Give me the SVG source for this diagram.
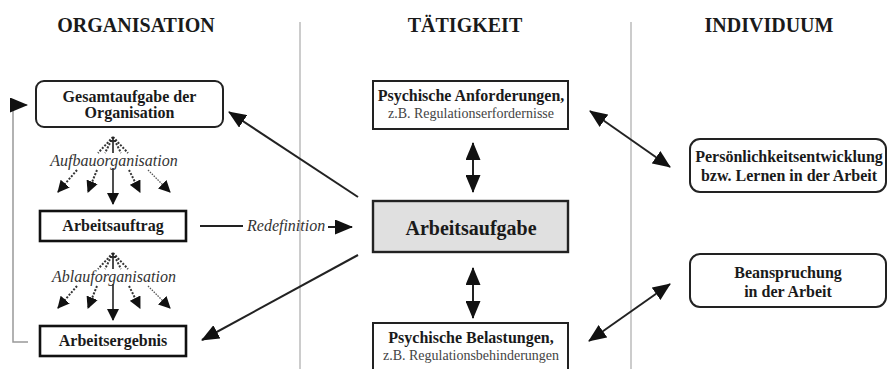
<svg xmlns="http://www.w3.org/2000/svg" xmlns:xlink="http://www.w3.org/1999/xlink" width="888" height="369" viewBox="0 0 888 369">
<style>
text{font-family:"Liberation Serif","Times New Roman",serif;fill:#1a1a1a}
.h{font-size:20px;font-weight:bold;text-anchor:middle}
.b{font-size:16px;font-weight:bold;text-anchor:middle}
.s{font-size:14px;text-anchor:middle;fill:#444}
.i{font-size:16px;font-style:italic;fill:#333}
.box{fill:#fff;stroke:#222;stroke-width:2}
.heavy{fill:#fff;stroke:#111;stroke-width:2.6}
.div{stroke:#bbb;stroke-width:1.5;fill:none}
.arr{stroke:#222;stroke-width:2;fill:none}
.dot{stroke:#333;stroke-width:2;stroke-dasharray:2 1.5;fill:none}
.thin{stroke:#555;stroke-width:1.3;stroke-dasharray:1.5 1.2;fill:none}
.sol{stroke:#222;stroke-width:1.6;fill:none}
</style>
<defs>
<marker id="ah" markerUnits="userSpaceOnUse" markerWidth="18" markerHeight="15" viewBox="0 0 18 15" refX="17" refY="7.5" orient="auto-start-reverse"><path d="M0,0 L18,7.5 L0,15 z" fill="#111"/></marker>
<marker id="sm" markerUnits="userSpaceOnUse" markerWidth="12" markerHeight="12" viewBox="0 0 12 12" refX="11" refY="6" orient="auto"><path d="M0,0 L12,6 L0,12 z" fill="#111"/></marker>
<g id="fan">
<path class="dot" d="M0,0 L-15,16 M0,0 L-8,16 M0,0 L8,16 M0,0 L15,16"/>
<path class="sol" d="M0,0 L0,16 M-3,4 L3,4"/>
<path class="dot" d="M-36,33 L-55,55" marker-end="url(#sm)"/>
<path class="dot" d="M-16,33 L-25,55" marker-end="url(#sm)"/>
<path class="sol" d="M0,31 L0,67" marker-end="url(#sm)"/>
<path class="dot" d="M16,33 L27,55" marker-end="url(#sm)"/>
<path class="thin" d="M35,33 L57,55" marker-end="url(#sm)"/>
</g>
</defs>
<rect width="888" height="369" fill="#fff"/>

<g id="headers">
<text class="h" x="136" y="32">ORGANISATION</text>
<text class="h" x="465" y="32">TÄTIGKEIT</text>
<text class="h" x="769" y="32">INDIVIDUUM</text>
</g>
<g id="dividers">
<line class="div" x1="300" y1="22" x2="300" y2="369"/>
<line class="div" x1="631" y1="22" x2="631" y2="369"/>
</g>

<g id="gesamtaufgabe">
<rect class="box" x="36" y="81" width="187" height="46" rx="8"/>
<text class="b" x="129.5" y="102">Gesamtaufgabe der</text>
<text class="b" x="129.5" y="118">Organisation</text>
</g>
<g id="aufbau">
<use xlink:href="#fan" href="#fan" transform="translate(113,137)"/>
<text class="i" x="114" y="166" text-anchor="middle">Aufbauorganisation</text>
</g>
<g id="arbeitsauftrag">
<rect class="heavy" x="40" y="211" width="146" height="30"/>
<text class="b" x="113" y="231">Arbeitsauftrag</text>
</g>
<g id="ablauf">
<use xlink:href="#fan" href="#fan" transform="translate(113,253)"/>
<text class="i" x="114" y="282" text-anchor="middle">Ablauforganisation</text>
</g>
<g id="arbeitsergebnis">
<rect class="heavy" x="40" y="326" width="146" height="30"/>
<text class="b" x="113" y="346">Arbeitsergebnis</text>
</g>

<g id="anforderungen">
<rect class="box" x="373" y="81" width="195" height="48"/>
<text class="b" x="471" y="101">Psychische Anforderungen,</text>
<text class="s" x="471" y="118">z.B. Regulationserfordernisse</text>
</g>
<g id="arbeitsaufgabe">
<rect x="373" y="201" width="195" height="51" fill="#e0e0e0" stroke="#222" stroke-width="2.4"/>
<text x="471" y="235" style="font-size:20px;font-weight:bold;text-anchor:middle">Arbeitsaufgabe</text>
</g>
<g id="belastungen">
<rect class="box" x="373" y="323" width="195" height="52"/>
<text class="b" x="471" y="343">Psychische Belastungen,</text>
<text class="s" x="471" y="360">z.B. Regulationsbehinderungen</text>
</g>

<g id="persoenlichkeit">
<rect class="box" x="690" y="139" width="196" height="53" rx="10"/>
<text class="b" x="789" y="162">Persönlichkeitsentwicklung</text>
<text class="b" x="789" y="181">bzw. Lernen in der Arbeit</text>
</g>
<g id="beanspruchung">
<rect class="box" x="690" y="254" width="196" height="53" rx="10"/>
<text class="b" x="788" y="278">Beanspruchung</text>
<text class="b" x="788" y="297">in der Arbeit</text>
</g>

<g id="connectors">
<path d="M28,342 L13,342 L13,105 L27,105" stroke="#999" stroke-width="1.5" fill="none" marker-end="url(#ah)"/>
<line class="arr" x1="358" y1="197" x2="229" y2="112" marker-end="url(#ah)"/>
<line class="arr" x1="358" y1="255" x2="202" y2="340" marker-end="url(#ah)"/>
<line class="arr" x1="200" y1="226" x2="243" y2="226" stroke-width="1.5"/>
<text class="i" x="247" y="231">Redefinition</text>
<line class="arr" x1="328" y1="227" x2="352" y2="227" stroke-width="1.5" marker-end="url(#ah)"/>
<line class="arr" x1="473" y1="143" x2="473" y2="192" stroke-width="1.6" marker-start="url(#ah)" marker-end="url(#ah)"/>
<line class="arr" x1="473" y1="268" x2="473" y2="318" stroke-width="1.6" marker-start="url(#ah)" marker-end="url(#ah)"/>
<line class="arr" x1="590" y1="111" x2="670" y2="167" marker-start="url(#ah)" marker-end="url(#ah)"/>
<line class="arr" x1="670" y1="284" x2="589" y2="341" marker-start="url(#ah)" marker-end="url(#ah)"/>
</g>
</svg>
